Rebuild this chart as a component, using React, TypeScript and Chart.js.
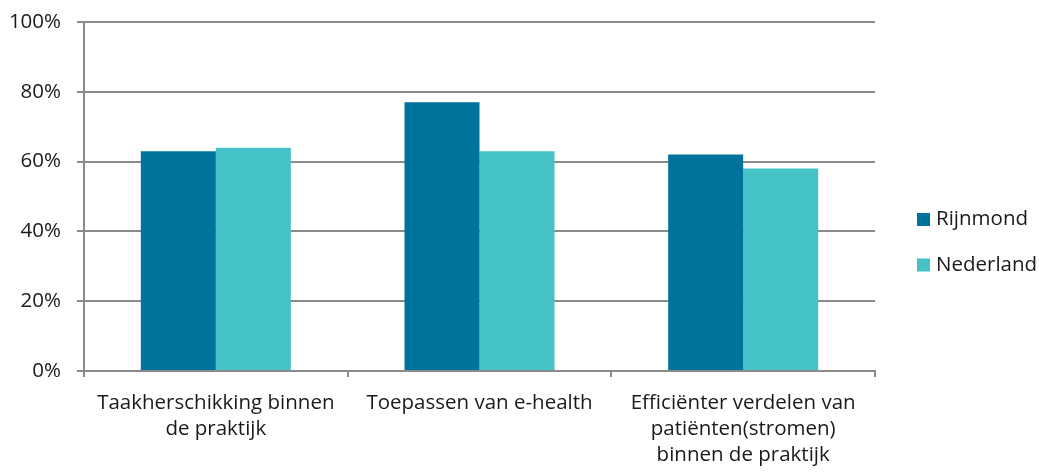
import React, { useEffect, useRef } from "react";
import { Chart, registerables } from "chart.js";

Chart.register(...registerables);

const categories: (string | string[])[] = [
  ["Taakherschikking binnen", "de praktijk"],
  ["Toepassen van e-health"],
  ["Efficiënter verdelen van", "patiënten(stromen)", "binnen de praktijk"],
];
const rijnmond = [63, 77, 62];
const nederland = [64, 63, 58];
const seriesNames = ["Rijnmond", "Nederland"];
const seriesColors = ["#00739C", "#45C2C6"];

const FONT = "'Open Sans', sans-serif";
const FS = 20.5;
const GRID = "#8a8a8a";

const legendPlugin = {
  id: "customLegend",
  afterDraw(chart: any) {
    const ctx = chart.ctx;
    ctx.save();
    ctx.font = `${FS}px ${FONT}`;
    ctx.textBaseline = "middle";
    ctx.textAlign = "left";
    chart.data.datasets.forEach((ds: any, i: number) => {
      const y = 219.5 + i * 45.5;
      ctx.fillStyle = ds.backgroundColor;
      ctx.fillRect(917, y - 6.5, 13, 13);
      ctx.fillStyle = "#1a1a1a";
      ctx.fillText(ds.label, 936, y);
    });
    ctx.restore();
  },
};

export default function App() {
  const ref = useRef<HTMLCanvasElement | null>(null);
  useEffect(() => {
    if (!ref.current) return;
    const chart = new Chart(ref.current, {
      type: "bar",
      data: {
        labels: categories,
        datasets: [
          { label: seriesNames[0], data: rijnmond, backgroundColor: seriesColors[0] },
          { label: seriesNames[1], data: nederland, backgroundColor: seriesColors[1] },
        ],
      },
      options: {
        responsive: false,
        animation: false,
        layout: { padding: { top: 22, right: 164, left: 0, bottom: 0 } },
        datasets: { bar: { categoryPercentage: 0.569, barPercentage: 1 } },
        plugins: { legend: { display: false }, tooltip: { enabled: false } },
        scales: {
          x: {
            grid: {
              offset: true,
              drawOnChartArea: false,
              drawTicks: true,
              tickLength: 6,
              color: GRID,
              lineWidth: 2,
            },
            border: { color: GRID, width: 2 },
            ticks: {
              font: { family: FONT, size: FS, lineHeight: 26 / FS },
              color: "#1a1a1a",
              maxRotation: 0,
              autoSkip: false,
              padding: 13,
            },
            afterFit: (s: any) => {
              s.height = 101;
            },
          },
          y: {
            min: 0,
            max: 100,
            ticks: {
              stepSize: 20,
              callback: (v: any) => v + "%",
              font: { family: FONT, size: FS, lineHeight: 1 },
              color: "#1a1a1a",
              padding: 16,
            },
            grid: { color: GRID, tickLength: 7, lineWidth: 2 },
            border: { color: GRID, width: 2 },
            afterFit: (s: any) => {
              s.width = 84;
              s.paddingTop = 0;
              s.paddingBottom = 0;
            },
          },
        },
      },
      plugins: [legendPlugin],
    });
    return () => chart.destroy();
  }, []);
  return (
    <div style={{ position: "fixed", left: 0, top: 0, width: 1039, height: 472, background: "#fff" }}>
      <canvas ref={ref} width={1039} height={472} style={{ width: 1039, height: 472 }} />
    </div>
  );
}
